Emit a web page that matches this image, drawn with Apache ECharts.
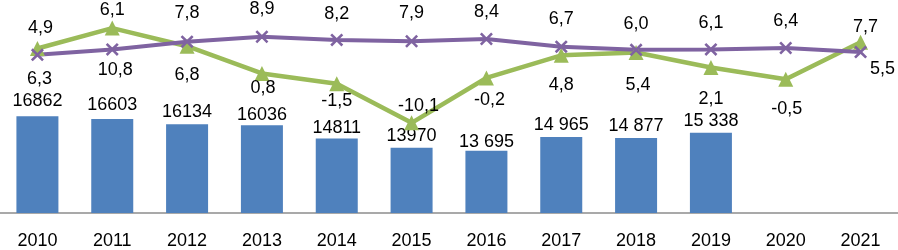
<!DOCTYPE html>
<html>
<head>
<meta charset="utf-8">
<script src="https://cdn.jsdelivr.net/npm/echarts@6/dist/echarts.min.js"></script>
<style>
  html, body { margin: 0; padding: 0; background: #fff; }
  #chart { width: 898px; height: 250px; }
</style>
</head>
<body>
<div id="chart"></div>
<script>
var years = ['2010', '2011', '2012', '2013', '2014', '2015', '2016', '2017', '2018', '2019', '2020', '2021'];
var volume = [16862, 16603, 16134, 16036, 14811, 13970, 13695, 14965, 14877, 15338, null, null];
var volumeLabels = ['16862', '16603', '16134', '16036', '14811', '13970', '13 695', '14 965', '14 877', '15 338', '', ''];
var growthA = [6.3, 10.8, 6.8, 0.8, -1.5, -10.1, -0.2, 4.8, 5.4, 2.1, -0.5, 7.7];
var growthB = [4.9, 6.1, 7.8, 8.9, 8.2, 7.9, 8.4, 6.7, 6.0, 6.1, 6.4, 5.5];

// label placement (offsets of the label centre from the mark, px)
var volumeLabelDy = [-15, -14, -12.5, -10, -11, -11.5, -9, -11.5, -12, -12, 0, 0];
var growthALabelOff = [[2, 31], [3, 42], [0, 29], [1, 15], [0, 17], [7, -17], [3, 22], [0, 30], [2, 32], [0, 32], [1, 30], [5, -15]];
var growthBLabelOff = [[3, -27], [0, -39], [0, -29], [0, -28], [0, -26], [0, -28], [0, -27], [0, -28], [0, -26], [0, -26], [0, -27], [22, 17]];

var fs = 18;
var font = 'Liberation Sans';
var comma = function (v) { return v.toFixed(1).replace('.', ','); };

var cross = 'path://M0,1.4L1.4,0L5,3.6L8.6,0L10,1.4L6.4,5L10,8.6L8.6,10L5,6.4L1.4,10L0,8.6L3.6,5Z';

option = {
    animation: false,
    grid: { left: 0, right: 0, top: 0, bottom: 34 },
    xAxis: {
        type: 'category',
        data: years,
        axisTick: { show: false },
        axisLine: { onZero: false, lineStyle: { color: '#8c8c8c', width: 1.5 } },
        axisLabel: { color: '#000', fontSize: 18, fontFamily: font, margin: 19, interval: 0 }
    },
    yAxis: [
        { type: 'value', min: 8000, max: 27500, show: false, splitLine: { show: false } },
        { type: 'value', min: -30, max: 17, show: false, splitLine: { show: false } }
    ],
    series: [
        {
            type: 'bar',
            barWidth: 42,
            itemStyle: { color: '#4f81bd' },
            data: volume.map(function (v, i) {
                return {
                    value: v,
                    label: {
                        show: v != null,
                        position: 'top',
                        distance: 0,
                        offset: [0, volumeLabelDy[i] + fs / 2],
                        formatter: volumeLabels[i],
                        color: '#000', fontSize: fs, fontFamily: font
                    }
                };
            })
        },
        {
            type: 'line',
            yAxisIndex: 1,
            symbol: 'triangle',
            symbolSize: 15,
            lineStyle: { color: '#9bbb59', width: 4.5 },
            itemStyle: { color: '#9bbb59' },
            data: growthA.map(function (v, i) {
                return {
                    value: v,
                    label: {
                        show: true,
                        position: 'inside',
                        offset: growthALabelOff[i],
                        formatter: comma(v),
                        color: '#000', fontSize: fs, fontFamily: font
                    }
                };
            })
        },
        {
            type: 'line',
            yAxisIndex: 1,
            symbol: cross,
            symbolSize: 13,
            lineStyle: { color: '#7f63a1', width: 4 },
            itemStyle: { color: '#7f63a1' },
            data: growthB.map(function (v, i) {
                return {
                    value: v,
                    label: {
                        show: true,
                        position: 'inside',
                        offset: growthBLabelOff[i],
                        formatter: comma(v),
                        color: '#000', fontSize: fs, fontFamily: font
                    }
                };
            })
        }
    ]
};

var chart = echarts.init(document.getElementById('chart'));
chart.setOption(option);
</script>
</body>
</html>
